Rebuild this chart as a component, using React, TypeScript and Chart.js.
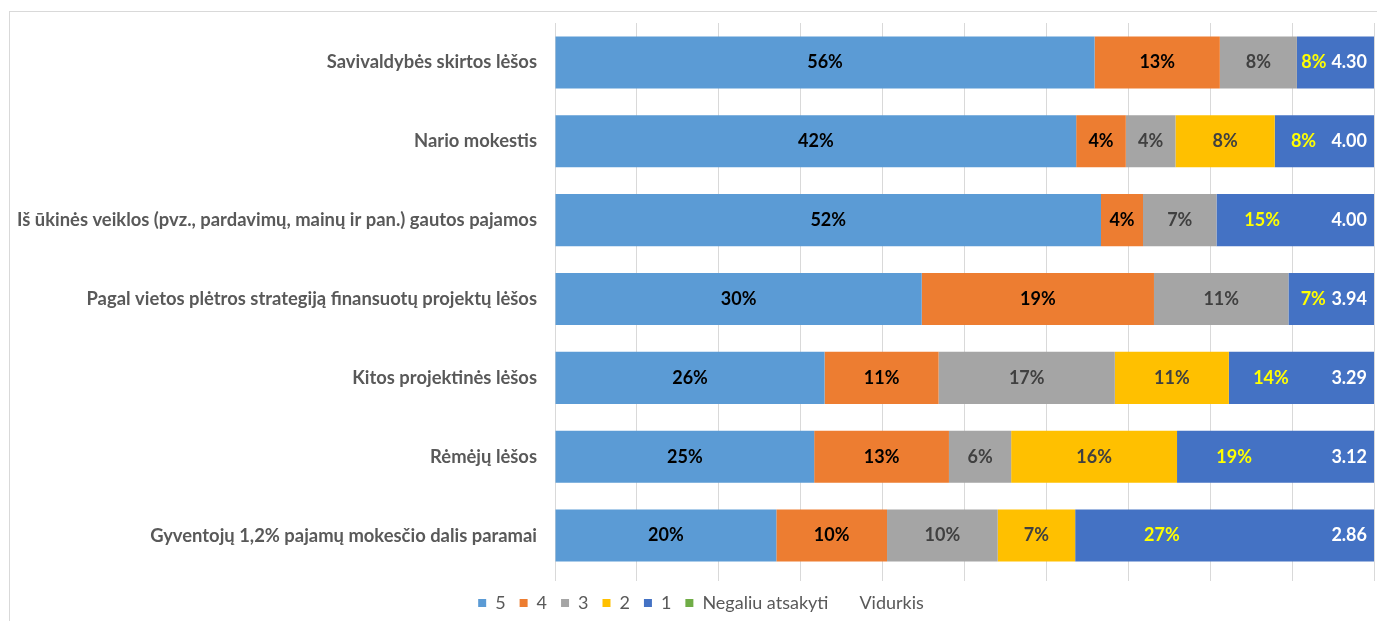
import React, { useEffect, useRef } from "react";
import { Chart, registerables } from "chart.js";

Chart.register(...registerables);

const categories = [
  "Savivaldybės skirtos lėšos",
  "Nario mokestis",
  "Iš ūkinės veiklos (pvz., pardavimų, mainų ir pan.) gautos pajamos",
  "Pagal vietos plėtros strategiją finansuotų projektų lėšos",
  "Kitos projektinės lėšos",
  "Rėmėjų lėšos",
  "Gyventojų 1,2% pajamų mokesčio dalis paramai",
];
const share5 = [56, 42, 52, 30, 26, 25, 20];
const share4 = [13, 4, 4, 19, 11, 13, 10];
const share3 = [8, 4, 7, 11, 17, 6, 10];
const share2 = [0, 8, 0, 0, 11, 16, 7];
const share1 = [8, 8, 15, 7, 14, 19, 27];
const shareNegaliu = [0, 0, 0, 0, 0, 0, 0];
const vidurkis = [4.3, 4.0, 4.0, 3.94, 3.29, 3.12, 2.86];
const seriesNames = ["5", "4", "3", "2", "1", "Negaliu atsakyti", "Vidurkis"];

const seriesColors = ["#5B9BD5", "#ED7D31", "#A5A5A5", "#FFC000", "#4472C4", "#70AD47", "rgba(0,0,0,0)"];
const labelColors = ["#000000", "#000000", "#404040", "#404040", "#FFFF00", "#000000"];

const rawSeries = [share5, share4, share3, share2, share1, shareNegaliu];

const FONT = "Lato, 'Open Sans', sans-serif";
const FS = 18;

const segLabels = {
  id: "segLabels",
  afterDatasetsDraw(chart: any) {
    const ctx = chart.ctx;
    const xs = chart.scales.x;
    const xEnd = xs.getPixelForValue(100);
    ctx.save();
    ctx.font = `bold ${FS}px ${FONT}`;
    ctx.textBaseline = "middle";
    ctx.textAlign = "center";
    for (let d = 0; d < rawSeries.length; d++) {
      const meta = chart.getDatasetMeta(d);
      const raw = rawSeries[d];
      meta.data.forEach((el: any, i: number) => {
        if (!raw[i]) return;
        const { x, base, y } = el.getProps(["x", "base", "y"], true);
        const txt = raw[i] + "%";
        let cx = base + (x - base) * 0.5;
        if (d === 4) {
          const lw = ctx.measureText(txt).width;
          const vw = ctx.measureText(vidurkis[i].toFixed(2)).width;
          cx = Math.min(base + (x - base) * 0.29, xEnd - 7 - vw - 5 - lw / 2);
        }
        ctx.fillStyle = labelColors[d];
        ctx.fillText(txt, cx, y);
      });
    }
    const meta0 = chart.getDatasetMeta(0);
    ctx.fillStyle = "#FFFFFF";
    ctx.textAlign = "right";
    meta0.data.forEach((el: any, i: number) => {
      ctx.fillText(vidurkis[i].toFixed(2), xEnd - 7, el.y);
    });
    ctx.restore();
  },
};

const legendShift = {
  id: "legendShift",
  afterLayout(chart: any) {
    const l = chart.legend;
    if (!l) return;
    l.top -= 1;
    l.bottom -= 1;
    l.left += 9;
    l.right += 9;
  },
};

export default function App() {
  const ref = useRef<HTMLCanvasElement | null>(null);

  useEffect(() => {
    let chart: Chart | null = null;
    let cancelled = false;
    const make = () => {
      if (cancelled || !ref.current) return;
      const totals = categories.map((_, i) =>
        rawSeries.reduce((s, arr) => s + arr[i], 0)
      );
      const datasets: any[] = rawSeries.map((arr, d) => ({
        label: seriesNames[d],
        data: arr.map((v, i) => (v / totals[i]) * 100),
        backgroundColor: seriesColors[d],
        borderWidth: 0,
        barPercentage: 0.66,
        categoryPercentage: 1,
      }));
      datasets.push({
        label: seriesNames[6],
        data: vidurkis.map(() => 0),
        backgroundColor: seriesColors[6],
        borderWidth: 0,
        barPercentage: 0.66,
        categoryPercentage: 1,
      });
      chart = new Chart(ref.current, {
        type: "bar",
        data: { labels: categories, datasets },
        plugins: [segLabels, legendShift],
        options: {
          indexAxis: "y",
          responsive: false,
          animation: false,
          layout: { padding: { top: 11, right: 3, left: 0, bottom: 0 } },
          font: { family: FONT },
          plugins: {
            tooltip: { enabled: false },
            legend: {
              position: "bottom",
              maxHeight: 40,
              labels: {
                boxWidth: 8,
                boxHeight: 8,
                padding: 14,
                color: "#595959",
                font: { family: FONT, size: FS },
              },
            },
          },
          scales: {
            x: {
              stacked: true,
              min: 0,
              max: 100,
              ticks: { display: false, stepSize: 10 },
              grid: { color: "#D9D9D9", lineWidth: 1, tickLength: 6, drawTicks: true },
              border: { display: false },
            },
            y: {
              stacked: true,
              grid: { display: false, drawTicks: false },
              border: { display: false },
              ticks: {
                color: "#595959",
                padding: 18,
                font: { family: FONT, size: 18.4, weight: "bold" },
              },
              afterFit: (s: any) => {
                s.width = 545;
                s.paddingTop = 0;
                s.paddingBottom = 0;
              },
            },
          },
        } as any,
      });
    };
    const fonts: any = (document as any).fonts;
    if (fonts && fonts.load) {
      Promise.all([
        fonts.load(`bold ${FS}px Lato`),
        fonts.load(`${FS}px Lato`),
      ]).then(make, make);
    } else {
      make();
    }
    return () => {
      cancelled = true;
      if (chart) chart.destroy();
    };
  }, []);

  return (
    <div
      style={{
        position: "absolute",
        top: 11,
        left: 9,
        width: 1367,
        height: 609,
        borderTop: "1px solid #D9D9D9",
        borderLeft: "1px solid #D9D9D9",
        background: "#FFFFFF",
        overflow: "hidden",
      }}
    >
      <canvas ref={ref} width={1367} height={609} style={{ display: "block", width: 1367, height: 609 }} />
    </div>
  );
}
